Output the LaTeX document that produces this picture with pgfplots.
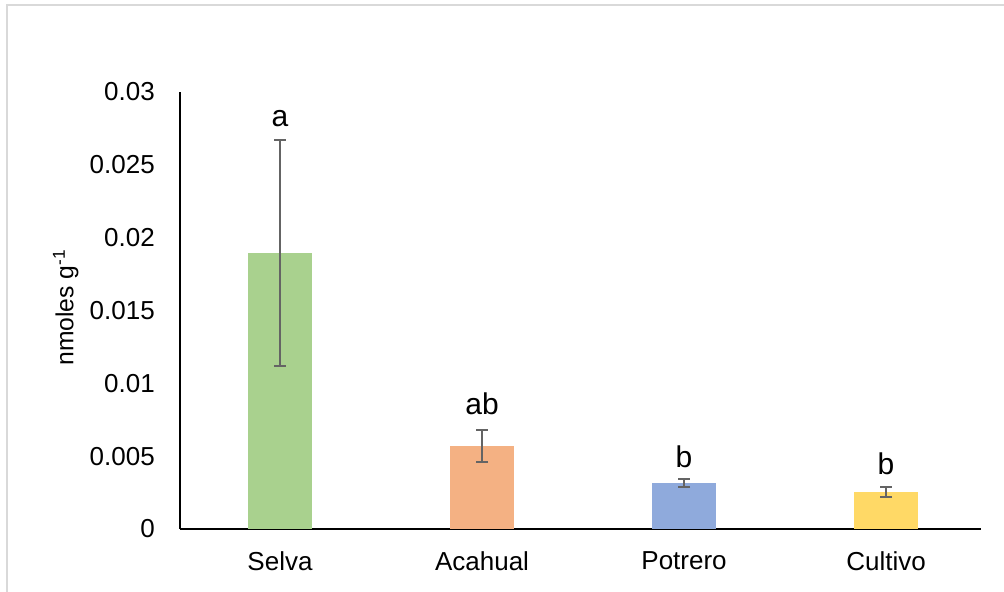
\documentclass[border=0pt]{standalone}
\usepackage{fontspec}
\setmainfont{Liberation Sans}
\usepackage{pgfplots}
\pgfplotsset{compat=1.18}

\definecolor{selva}{HTML}{A9D18E}
\definecolor{acahual}{HTML}{F4B183}
\definecolor{potrero}{HTML}{8FAADC}
\definecolor{cultivo}{HTML}{FFD966}
\definecolor{errgray}{HTML}{646464}
\definecolor{framegray}{HTML}{D9D9D9}

\pgfplotsset{
  landbar/.style={
    ybar, bar shift=0pt, bar width=48pt, draw=none, fill=#1,
    error bars/.cd,
      y dir=both, y explicit,
      error bar style={errgray, line width=1.5pt},
      error mark options={errgray, line width=1.5pt, mark size=4.5pt, rotate=90},
  },
}

\begin{document}
\begin{tikzpicture}
\useasboundingbox (0,0) rectangle (753pt,444pt);
% chart area frame
\draw[framegray, line width=1.5pt] (5pt,0) -- (5pt,440.5pt) -- (753pt,440.5pt);

\begin{axis}[
  at={(135pt,47.25pt)}, anchor=south west,
  scale only axis, width=600.75pt, height=327.75pt,
  clip=false,
  xmin=-0.495, xmax=3.47,
  ymin=0, ymax=0.03,
  axis lines*=left,
  axis line style={black, line width=1.5pt},
  major tick length=0pt,
  scaled y ticks=false,
  xtick={0,1,2,3},
  xticklabels={Selva,Acahual,Potrero,Cultivo},
  ytick={0,0.005,0.01,0.015,0.02,0.025,0.03},
  yticklabels={0,0.005,0.01,0.015,0.02,0.025,0.03},
  /pgf/number format/assume math mode=true,
  yticklabel style={font=\fontsize{19.5}{23}\selectfont, inner sep=0pt, xshift=-18.75pt},
  xticklabel style={font=\fontsize{19.5}{23}\selectfont, inner sep=0pt, yshift=-17pt},
]
\addplot[landbar=selva]   coordinates {(0,0.01895) +- (0,0.00776)};
\addplot[landbar=acahual] coordinates {(1,0.00570) +- (0,0.00107)};
\addplot[landbar=potrero] coordinates {(2,0.00316) +- (0,0.00028)};
\addplot[landbar=cultivo] coordinates {(3,0.00254) +- (0,0.00034)};

% significance letters
\begin{scope}[every node/.style={anchor=base, inner sep=0pt, font=\fontsize{22.5}{26}\selectfont}]
\node at (axis cs:0,0.0276)  {a};
\node at (axis cs:1,0.00783) {ab};
\node at (axis cs:2,0.00419) {b};
\node at (axis cs:3,0.00371) {b};
\end{scope}
\end{axis}

\node[rotate=90, anchor=base, inner sep=0pt, font=\fontsize{18.5}{21}\selectfont]
  at (55pt,213.4pt) {nmoles g\textsuperscript{-1}};
\end{tikzpicture}
\end{document}
